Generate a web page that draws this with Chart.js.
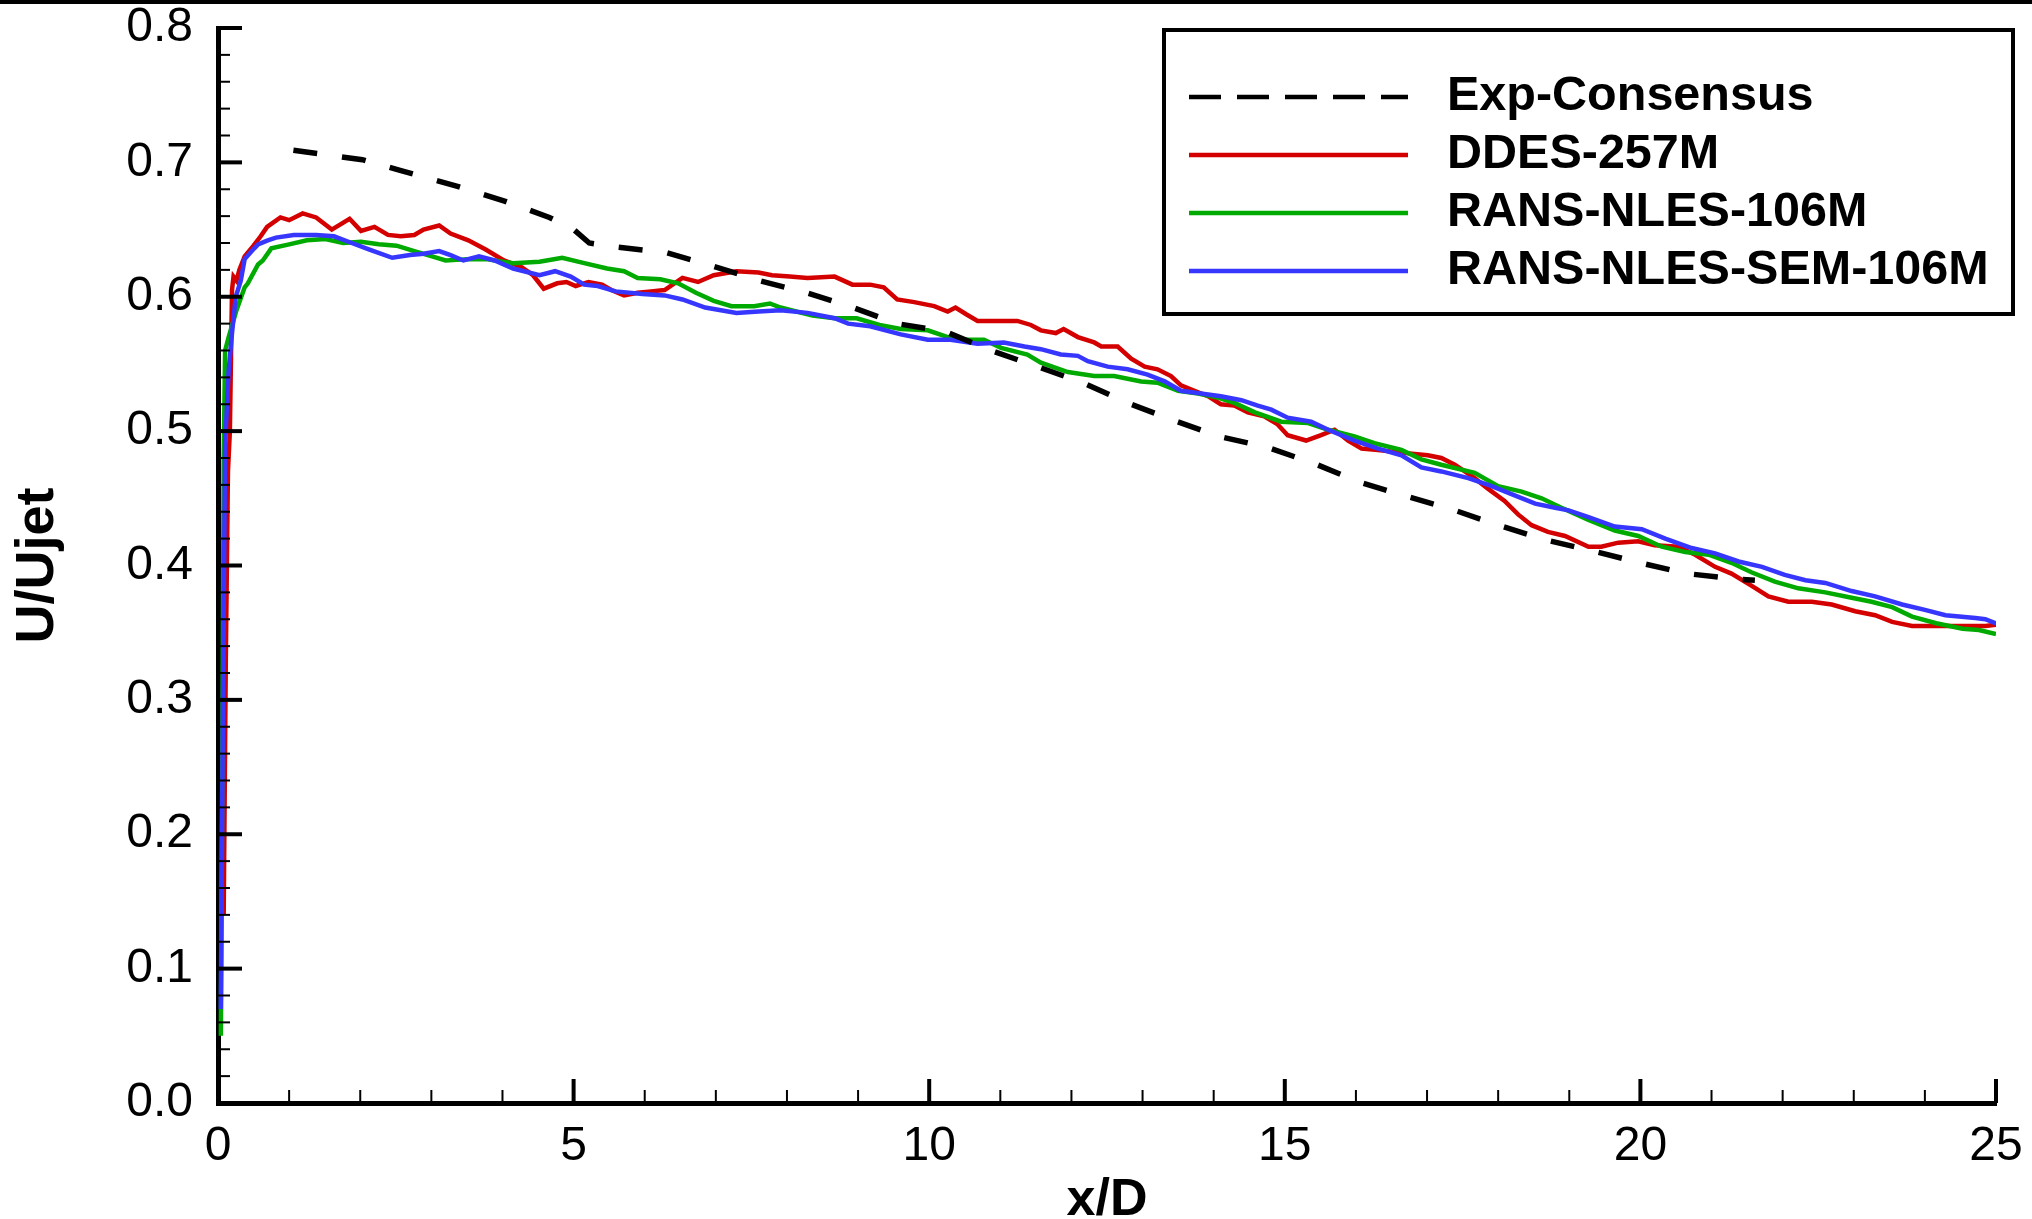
<!DOCTYPE html>
<html>
<head>
<meta charset="utf-8">
<title>U/Ujet vs x/D</title>
<script src="https://cdn.jsdelivr.net/npm/chart.js@4.4.1/dist/chart.umd.min.js"></script>
<style>
  html, body { margin: 0; padding: 0; background: #fff; }
</style>
</head>
<body>
<canvas id="chart" width="2032" height="1219"></canvas>
<script>
// centreline velocity decay
const expX = [1.06, 2.03, 2.56, 3.38, 4.04, 4.66, 4.98, 5.22, 5.6, 6.29, 6.95, 7.61, 8.27, 8.93, 9.55,
  10.23, 10.87, 11.52, 12.16, 12.79, 13.44, 14.08, 14.75, 15.41, 16.05, 16.68, 17.34, 18.0, 18.67,
  19.32, 19.99, 20.65, 21.33, 21.61];
const expY = [0.709, 0.702, 0.694, 0.682, 0.671, 0.659, 0.651, 0.640, 0.637, 0.633, 0.623, 0.612, 0.603, 0.592, 0.580,
  0.574, 0.560, 0.548, 0.536, 0.521, 0.508, 0.496, 0.488, 0.476, 0.462, 0.452, 0.442, 0.430, 0.419,
  0.411, 0.402, 0.394, 0.390, 0.389];

const ddesX = [0.08, 0.11, 0.14, 0.167, 0.197, 0.218, 0.26, 0.30, 0.375, 0.50, 0.60, 0.69, 0.878, 1.00, 1.19,
  1.38, 1.60, 1.85, 2.01, 2.20, 2.39, 2.57, 2.76, 2.89, 3.11, 3.27, 3.52, 3.77, 4.02, 4.27, 4.43, 4.58,
  4.77, 4.90, 5.03, 5.21, 5.40, 5.53, 5.71, 5.90, 6.09, 6.28, 6.53, 6.75, 6.97, 7.29, 7.60, 7.79, 8.04,
  8.29, 8.67, 8.92, 9.17, 9.36, 9.55, 9.79, 10.07, 10.26, 10.37, 10.52, 10.68, 10.96, 11.24, 11.43,
  11.57, 11.78, 11.89, 12.09, 12.32, 12.42, 12.65, 12.84, 13.03, 13.21, 13.40, 13.54, 13.73, 13.92,
  14.10, 14.29, 14.48, 14.71, 14.90, 15.04, 15.30, 15.51, 15.70, 15.89, 16.08, 16.31, 16.64, 17.01,
  17.20, 17.39, 17.67, 17.86, 18.09, 18.28, 18.47, 18.70, 18.94, 19.27, 19.45, 19.69, 19.97, 20.20,
  20.53, 20.77, 21.05, 21.28, 21.56, 21.80, 22.08, 22.41, 22.69, 23.02, 23.30, 23.54, 23.82, 24.15,
  24.53, 24.85, 25.0];
const ddesY = [0.14, 0.33, 0.47, 0.50, 0.605, 0.615, 0.612, 0.620, 0.630, 0.638, 0.645, 0.652, 0.659, 0.657, 0.662,
  0.659, 0.650, 0.658, 0.649, 0.652, 0.646, 0.645, 0.646, 0.650, 0.653, 0.647, 0.642, 0.635, 0.627, 0.622, 0.616, 0.606,
  0.610, 0.611, 0.608, 0.611, 0.609, 0.605, 0.601, 0.603, 0.604, 0.605, 0.614, 0.611, 0.616, 0.619, 0.618, 0.616, 0.615,
  0.614, 0.615, 0.609, 0.609, 0.607, 0.598, 0.596, 0.593, 0.589, 0.592, 0.587, 0.582, 0.582, 0.582, 0.579,
  0.575, 0.573, 0.576, 0.570, 0.566, 0.563, 0.563, 0.554, 0.548, 0.546, 0.541, 0.534, 0.530, 0.526,
  0.520, 0.519, 0.514, 0.511, 0.505, 0.497, 0.493, 0.497, 0.501, 0.493, 0.487, 0.486, 0.484, 0.482,
  0.480, 0.475, 0.465, 0.457, 0.448, 0.438, 0.430, 0.425, 0.422, 0.414, 0.414, 0.417, 0.418, 0.415,
  0.414, 0.408, 0.399, 0.394, 0.385, 0.377, 0.373, 0.373, 0.371, 0.366, 0.363, 0.358, 0.355, 0.355,
  0.355, 0.355, 0.356];

const nlesX = [0.04, 0.06, 0.08, 0.10, 0.15, 0.26, 0.375, 0.42, 0.563, 0.63, 0.75, 1.00, 1.25, 1.51, 1.76,
  2.01, 2.26, 2.51, 2.76, 3.01, 3.20, 3.52, 3.77, 4.15, 4.52, 4.84, 5.15, 5.47, 5.71, 5.90, 6.22, 6.47,
  6.72, 6.97, 7.22, 7.54, 7.76, 7.91, 8.36, 8.67, 8.98, 9.30, 9.60, 9.98, 10.26, 10.49, 10.77, 11.01,
  11.38, 11.57, 11.95, 12.32, 12.60, 12.98, 13.21, 13.50, 13.78, 14.06, 14.29, 14.58, 14.95, 15.33,
  15.61, 15.98, 16.26, 16.64, 16.92, 17.20, 17.67, 18.00, 18.33, 18.61, 18.89, 19.27, 19.64, 19.97,
  20.30, 20.63, 20.96, 21.28, 21.56, 21.89, 22.22, 22.60, 22.97, 23.25, 23.54, 23.82, 24.16, 24.53,
  24.76, 25.0];
const nlesY = [0.05, 0.25, 0.48, 0.56, 0.570, 0.590, 0.607, 0.610, 0.624, 0.627, 0.636, 0.639, 0.642, 0.643, 0.640,
  0.641, 0.639, 0.638, 0.634, 0.630, 0.627, 0.628, 0.628, 0.625, 0.626, 0.629, 0.625, 0.621, 0.619, 0.614, 0.613, 0.610,
  0.603, 0.597, 0.593, 0.593, 0.595, 0.592, 0.586, 0.584, 0.584, 0.579, 0.576, 0.575, 0.570, 0.568, 0.568, 0.562,
  0.557, 0.551, 0.544, 0.541, 0.541, 0.537, 0.536, 0.530, 0.528, 0.525, 0.521, 0.514, 0.507, 0.506,
  0.501, 0.496, 0.491, 0.486, 0.479, 0.475, 0.469, 0.459, 0.455, 0.450, 0.443, 0.434, 0.426, 0.422,
  0.414, 0.410, 0.408, 0.402, 0.395, 0.388, 0.383, 0.380, 0.376, 0.373, 0.369, 0.362, 0.357, 0.353,
  0.352, 0.349];

const semX = [0.04, 0.07, 0.10, 0.15, 0.197, 0.25, 0.32, 0.375, 0.51, 0.563, 0.70, 0.815, 1.066, 1.38, 1.63,
  1.88, 2.13, 2.45, 2.70, 2.89, 3.11, 3.27, 3.45, 3.67, 3.89, 4.15, 4.52, 4.74, 4.96, 5.15, 5.34, 5.59,
  5.97, 6.28, 6.53, 6.85, 7.29, 7.60, 7.91, 8.29, 8.67, 8.86, 9.17, 9.60, 9.98, 10.30, 10.68, 11.05,
  11.34, 11.57, 11.85, 12.09, 12.23, 12.51, 12.79, 13.07, 13.31, 13.54, 13.82, 14.10, 14.39, 14.62,
  14.81, 15.04, 15.37, 15.61, 15.98, 16.31, 16.64, 16.92, 17.20, 17.58, 17.91, 18.24, 18.52, 18.80,
  18.99, 19.27, 19.64, 20.02, 20.35, 20.72, 21.05, 21.38, 21.71, 22.03, 22.32, 22.60, 22.97, 23.30,
  23.68, 24.00, 24.29, 24.71, 24.85, 25.0];
const semY = [0.07, 0.30, 0.49, 0.545, 0.573, 0.600, 0.612, 0.628, 0.636, 0.639, 0.642, 0.644, 0.646, 0.646, 0.645,
  0.640, 0.635, 0.629, 0.631, 0.632, 0.634, 0.631, 0.627, 0.630, 0.627, 0.621, 0.616, 0.619, 0.615, 0.609, 0.608, 0.604,
  0.602, 0.601, 0.598, 0.592, 0.588, 0.589, 0.590, 0.588, 0.584, 0.580, 0.578, 0.572, 0.568, 0.568, 0.565, 0.566,
  0.563, 0.561, 0.557, 0.556, 0.552, 0.548, 0.546, 0.542, 0.537, 0.530, 0.528, 0.526, 0.523, 0.519,
  0.516, 0.510, 0.507, 0.501, 0.493, 0.487, 0.482, 0.473, 0.470, 0.465, 0.459, 0.452, 0.446, 0.443,
  0.441, 0.436, 0.429, 0.427, 0.420, 0.413, 0.409, 0.403, 0.399, 0.393, 0.389, 0.387, 0.381, 0.377,
  0.371, 0.367, 0.363, 0.361, 0.360, 0.357];

const seriesNames = ['Exp-Consensus', 'DDES-257M', 'RANS-NLES-106M', 'RANS-NLES-SEM-106M'];
const seriesColors = ['#000000', '#d40000', '#00aa00', '#3636ff'];

const FONT = '"Liberation Sans", Arial, Helvetica, sans-serif';
Chart.defaults.font.family = FONT;
Chart.defaults.color = '#000';

const toPoints = (xs, ys) => xs.map((x, i) => ({ x, y: ys[i] }));

// inward major/minor ticks like the original plot
const inwardTicks = {
  id: 'inwardTicks',
  afterDatasetsDraw(chart) {
    const { ctx, chartArea: area, scales: { x, y } } = chart;
    ctx.save();
    ctx.strokeStyle = '#000';
    for (let v = 0; v <= 25; v++) {
      const major = v % 5 === 0;
      const px = x.getPixelForValue(v);
      ctx.lineWidth = major ? 4 : 2;
      ctx.beginPath();
      ctx.moveTo(px, area.bottom);
      ctx.lineTo(px, area.bottom - (major ? 24 : 13));
      ctx.stroke();
    }
    for (let i = 0; i <= 40; i++) {
      const major = i % 5 === 0;
      const py = y.getPixelForValue(i * 0.02);
      ctx.lineWidth = major ? 4 : 2;
      ctx.beginPath();
      ctx.moveTo(area.left, py);
      ctx.lineTo(area.left + (major ? 24 : 12), py);
      ctx.stroke();
    }
    ctx.restore();
  }
};

// boxed legend in the upper right, plus the frame line along the top edge
const boxLegend = {
  id: 'boxLegend',
  afterDraw(chart) {
    const ctx = chart.ctx;
    ctx.save();
    ctx.fillStyle = '#000';
    ctx.fillRect(0, 0, chart.width, 4);

    ctx.lineWidth = 4;
    ctx.strokeStyle = '#000';
    ctx.strokeRect(1164, 30, 849, 284);

    chart.data.datasets.forEach((ds, i) => {
      const rowY = 97 + i * 58;
      ctx.beginPath();
      ctx.setLineDash(ds.borderDash && ds.borderDash.length ? [32, 16] : []);
      ctx.lineWidth = 4.5;
      ctx.strokeStyle = ds.borderColor;
      ctx.moveTo(1189, rowY);
      ctx.lineTo(1408, rowY);
      ctx.stroke();
      ctx.setLineDash([]);

      ctx.fillStyle = '#000';
      ctx.font = 'bold 48.5px ' + FONT;
      ctx.textBaseline = 'middle';
      ctx.textAlign = 'left';
      ctx.fillText(ds.label, 1447, rowY);
    });
    ctx.restore();
  }
};

const allX = [expX, ddesX, nlesX, semX];
const allY = [expY, ddesY, nlesY, semY];

const datasets = seriesNames.map((name, i) => ({
  label: name,
  data: toPoints(allX[i], allY[i]),
  borderColor: seriesColors[i],
  borderWidth: i === 0 ? 5.5 : 4.5,
  borderDash: i === 0 ? [24, 25] : [],
  pointRadius: 0,
  tension: 0,
  fill: false
}));
// draw the dashed experiment line on top like the original
datasets.forEach((ds, i) => { ds.order = i === 0 ? 0 : 4 - i; });

new Chart(document.getElementById('chart'), {
  type: 'line',
  data: { datasets },
  options: {
    responsive: false,
    devicePixelRatio: 1,
    animation: false,
    layout: { padding: { left: 0, top: 28, right: 36, bottom: 0 } },
    plugins: {
      legend: { display: false },
      tooltip: { enabled: false }
    },
    scales: {
      x: {
        type: 'linear',
        min: 0,
        max: 25,
        afterFit: (scale) => {
          scale.height = 116;
          scale.paddingLeft = 0;
          scale.paddingRight = 0;
        },
        grid: { display: false, drawTicks: false },
        border: { display: true, color: '#000', width: 5 },
        ticks: {
          stepSize: 5,
          padding: 15,
          font: { size: 48 },
          callback: (v) => String(v)
        },
        title: {
          display: true,
          text: 'x/D',
          font: { size: 52, weight: 'bold' },
          padding: { top: 0, bottom: -13 }
        }
      },
      y: {
        type: 'linear',
        min: 0,
        max: 0.8,
        afterFit: (scale) => {
          scale.width = 218;
          scale.paddingTop = 0;
          scale.paddingBottom = 0;
        },
        grid: { display: false, drawTicks: false },
        border: { display: true, color: '#000', width: 5 },
        ticks: {
          stepSize: 0.1,
          padding: 25,
          font: { size: 48 },
          callback: (v) => Number(v).toFixed(1)
        },
        title: {
          display: true,
          text: 'U/Ujet',
          font: { size: 54, weight: 'bold' },
          padding: { top: 6, bottom: 0 }
        }
      }
    }
  },
  plugins: [inwardTicks, boxLegend]
});
</script>
</body>
</html>
